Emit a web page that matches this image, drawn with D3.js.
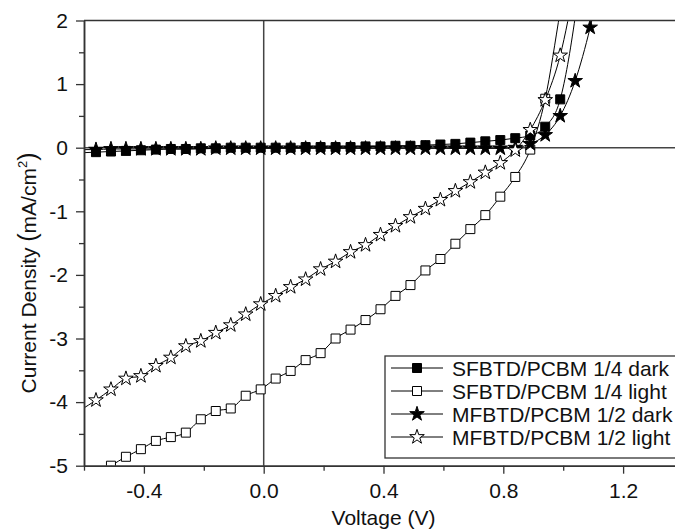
<!DOCTYPE html>
<html>
<head>
<meta charset="utf-8">
<script src="https://cdn.jsdelivr.net/npm/d3@7"></script>
<style>
  body { margin: 0; background: #fff; }
  svg { display: block; }
  text { font-family: "Liberation Sans", Arial, sans-serif; fill: #111; }
</style>
</head>
<body>
<svg id="chart"></svg>
<script>
// bias voltage (V), one value per measured point
var voltage = [-0.61, -0.56, -0.51, -0.46, -0.41, -0.36, -0.31, -0.26, -0.21, -0.16, -0.11, -0.06,
  -0.01, 0.04, 0.09, 0.14, 0.19, 0.24, 0.29, 0.34, 0.39, 0.44, 0.49, 0.54,
  0.59, 0.64, 0.69, 0.74, 0.79, 0.84, 0.89, 0.94, 0.99, 1.04, 1.09, 1.14]

// current density (mA/cm2)
var sfDark = [-0.08, -0.07, -0.06, -0.05, -0.04, -0.03, -0.02, -0.02, -0.01, -0.01, 0, 0,
  0, 0, 0, 0.01, 0.01, 0.01, 0.01, 0.02, 0.02, 0.03, 0.03, 0.04,
  0.05, 0.06, 0.08, 0.10, 0.12, 0.15, 0.19, 0.33, 0.76, 2.05, 4.0, null]
var sfLight = [-5.3, -5.15, -5.00, -4.86, -4.74, -4.61, -4.55, -4.48, -4.27, -4.14, -4.10, -3.90,
  -3.80, -3.63, -3.51, -3.34, -3.23, -3.00, -2.86, -2.71, -2.54, -2.33, -2.16, -1.93,
  -1.75, -1.51, -1.28, -1.06, -0.77, -0.46, -0.03, 0.77, 2.15, 3.6, null, null]
var mfDark = [-0.03, -0.03, -0.02, -0.02, -0.02, -0.02, -0.02, -0.02, -0.02, -0.01, -0.01, -0.01,
  -0.01, -0.01, -0.01, -0.01, -0.01, -0.01, -0.01, -0.01, -0.01, -0.01, -0.01, -0.01,
  -0.01, -0.01, -0.01, -0.01, -0.01, 0.0, 0.06, 0.20, 0.50, 1.05, 1.89, 3.0]
var mfLight = [-4.12, -3.97, -3.80, -3.63, -3.59, -3.43, -3.30, -3.12, -3.04, -2.91, -2.79, -2.62,
  -2.46, -2.33, -2.19, -2.07, -1.91, -1.79, -1.64, -1.53, -1.37, -1.23, -1.09, -0.96,
  -0.82, -0.68, -0.54, -0.39, -0.24, -0.04, 0.28, 0.75, 1.45, 2.6, null, null]

var seriesNames = ['SFBTD/PCBM 1/4 dark', 'SFBTD/PCBM 1/4 light', 'MFBTD/PCBM 1/2 dark', 'MFBTD/PCBM 1/2 light']

var xMajor = [-0.4, 0.0, 0.4, 0.8, 1.2]
var xMinor = [-0.6, -0.2, 0.2, 0.6, 1.0, 1.4]
var yMajor = [2, 1, 0, -1, -2, -3, -4, -5]
var yMinor = [1.5, 0.5, -0.5, -1.5, -2.5, -3.5, -4.5]

var W = 675, H = 529
var m = {left: 84, right: 683, top: 20.5, bottom: 465.7}

var svg = d3.select('#chart').attr('width', W).attr('height', H)

var x = d3.scaleLinear().domain([-0.6, 1.4]).range([m.left, m.right])
var y = d3.scaleLinear().domain([-5, 2]).range([m.bottom, m.top])

svg.append('clipPath').attr('id', 'plot')
  .append('rect')
  .attr('x', m.left).attr('y', m.top)
  .attr('width', m.right - m.left).attr('height', m.bottom - m.top)

// zero lines
svg.append('line')
  .attr('x1', m.left).attr('x2', m.right)
  .attr('y1', y(0)).attr('y2', y(0))
  .attr('stroke', '#444').attr('stroke-width', 1.5)
svg.append('line')
  .attr('x1', x(0)).attr('x2', x(0))
  .attr('y1', m.top).attr('y2', m.bottom)
  .attr('stroke', '#444').attr('stroke-width', 1.5)

var series = [
  {name: seriesNames[0], values: sfDark, shape: d3.symbolSquare, size: 81, fill: '#000'},
  {name: seriesNames[1], values: sfLight, shape: d3.symbolSquare, size: 81, fill: '#fff'},
  {name: seriesNames[2], values: mfDark, shape: d3.symbolStar, size: 66, fill: '#000'},
  {name: seriesNames[3], values: mfLight, shape: d3.symbolStar, size: 66, fill: '#fff'}
]

var line = d3.line()
  .defined(function(d) { return d.j !== null })
  .x(function(d) { return x(d.v) })
  .y(function(d) { return y(d.j) })
  .curve(d3.curveMonotoneX)

var plotG = svg.append('g').attr('clip-path', 'url(#plot)')

series.forEach(function(s) {
  var pts = voltage.map(function(v, i) { return {v: v, j: s.values[i]} })
  plotG.append('path')
    .attr('d', line(pts))
    .attr('fill', 'none')
    .attr('stroke', '#000')
    .attr('stroke-width', 1)

  var inside = pts.filter(function(d) {
    return d.j !== null && d.v >= -0.6 && d.j >= -5 && d.j <= 2
  })
  plotG.selectAll(null)
    .data(inside)
    .enter()
    .append('path')
    .attr('transform', function(d) { return 'translate(' + x(d.v) + ',' + y(d.j) + ')' })
    .attr('d', d3.symbol().type(s.shape).size(s.size))
    .attr('fill', s.fill)
    .attr('stroke', '#000')
    .attr('stroke-width', 1)
})

// frame
svg.append('line')
  .attr('x1', m.left).attr('x2', m.right)
  .attr('y1', m.top).attr('y2', m.top)
  .attr('stroke', '#333').attr('stroke-width', 1.5)

function styleAxis(g) {
  g.select('.domain').attr('stroke', '#333').attr('stroke-width', 1.5)
  g.selectAll('.tick line').attr('stroke', '#333').attr('stroke-width', 1.3)
  g.selectAll('.tick text').style('font-size', '21px').attr('fill', '#111')
}

svg.append('g')
  .attr('transform', 'translate(0,' + m.bottom + ')')
  .call(d3.axisBottom(x).tickValues(xMinor).tickSize(5).tickSizeOuter(0).tickFormat(''))
  .call(styleAxis)
svg.append('g')
  .attr('transform', 'translate(0,' + m.bottom + ')')
  .call(d3.axisBottom(x).tickValues(xMajor).tickSize(8).tickSizeOuter(0).tickPadding(9.5)
    .tickFormat(function(d) { return d.toFixed(1) }))
  .call(styleAxis)

svg.append('g')
  .attr('transform', 'translate(' + m.left + ',0)')
  .call(d3.axisLeft(y).tickValues(yMinor).tickSize(5).tickSizeOuter(0).tickFormat(''))
  .call(styleAxis)
svg.append('g')
  .attr('transform', 'translate(' + m.left + ',0)')
  .call(d3.axisLeft(y).tickValues(yMajor).tickSize(8).tickSizeOuter(0).tickPadding(8)
    .tickFormat(function(d) { return String(d) }))
  .call(styleAxis)

// axis titles
svg.append('text')
  .attr('x', (m.left + m.right) / 2)
  .attr('y', 524.5)
  .attr('text-anchor', 'middle')
  .style('font-size', '21px')
  .text('Voltage (V)')

var yTitle = svg.append('text')
  .attr('transform', 'translate(36,273) rotate(-90)')
  .attr('text-anchor', 'middle')
  .style('font-size', '21px')
yTitle.append('tspan').text('Current Density ')
yTitle.append('tspan').style('font-size', '25px').text('(')
yTitle.append('tspan').text('mA/cm')
yTitle.append('tspan').style('font-size', '13px').attr('dy', -9).text('2')
yTitle.append('tspan').style('font-size', '25px').attr('dy', 9).text(')')

// legend
var lg = svg.append('g')
lg.append('rect')
  .attr('x', 385).attr('y', 356)
  .attr('width', 294).attr('height', 102)
  .attr('fill', '#fff').attr('stroke', '#333').attr('stroke-width', 1.3)

series.forEach(function(s, i) {
  var cy = 368 + i * 23
  lg.append('line')
    .attr('x1', 391).attr('x2', 443)
    .attr('y1', cy).attr('y2', cy)
    .attr('stroke', '#000').attr('stroke-width', 1)
  lg.append('path')
    .attr('transform', 'translate(417,' + cy + ')')
    .attr('d', d3.symbol().type(s.shape).size(s.size))
    .attr('fill', s.fill).attr('stroke', '#000').attr('stroke-width', 1)
  lg.append('text')
    .attr('x', 452).attr('y', cy)
    .attr('dy', '0.36em')
    .style('font-size', '21px')
    .text(s.name)
})
</script>
</body>
</html>
